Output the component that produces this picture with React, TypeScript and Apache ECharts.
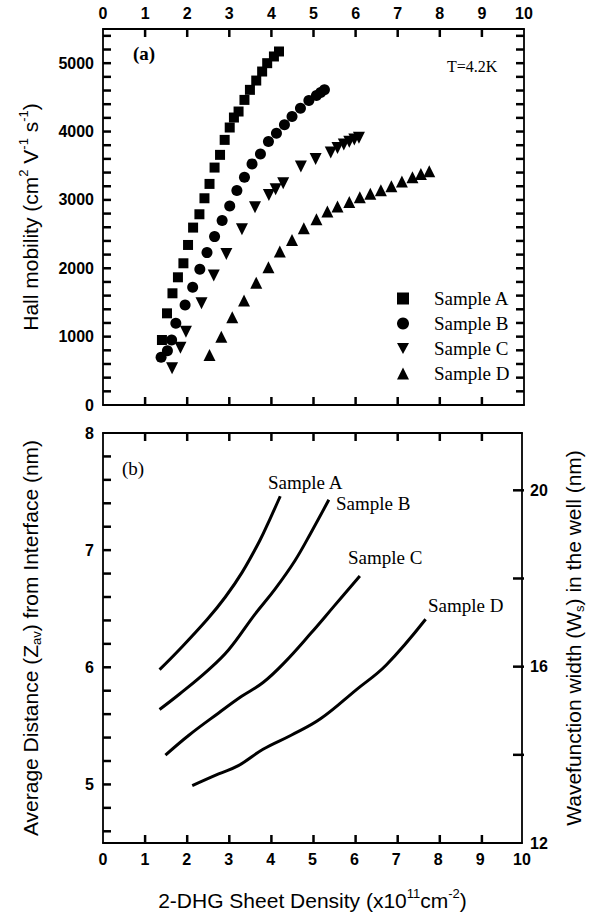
import { useEffect, useRef } from 'react';
import * as echarts from 'echarts';

const SANS = "'Liberation Sans', Arial, Helvetica, sans-serif";
const SERIF = "'Liberation Serif', 'Times New Roman', Times, serif";

// ---------- data ----------
const sampleNames = ['Sample A', 'Sample B', 'Sample C', 'Sample D'];

const densityLabels = [0, 1, 2, 3, 4, 5, 6, 7, 8, 9, 10];
const mobilityLabels = [0, 1000, 2000, 3000, 4000, 5000];
const distanceLabels = [5, 6, 7, 8];
const widthLabels = [12, 16, 20];
const widthTicks = [14, 16, 18, 20];

// (a) Hall mobility vs sheet density
const mobilityA: [number, number][] = [
  [1.40, 951], [1.52, 1341], [1.65, 1634], [1.78, 1868], [1.91, 2073], [2.02, 2341],
  [2.14, 2595], [2.29, 2790], [2.41, 3024], [2.53, 3234], [2.65, 3473], [2.78, 3659],
  [2.89, 3878], [3.01, 4059], [3.11, 4205], [3.22, 4293], [3.36, 4463], [3.49, 4610],
  [3.64, 4746], [3.78, 4878], [3.90, 5000], [4.06, 5098], [4.18, 5171],
];
const mobilityB: [number, number][] = [
  [1.38, 698], [1.53, 795], [1.63, 951], [1.73, 1195], [1.95, 1463], [2.13, 1722],
  [2.30, 1985], [2.47, 2229], [2.65, 2463], [2.83, 2698], [3.01, 2912], [3.18, 3137],
  [3.36, 3332], [3.54, 3527], [3.74, 3673], [3.93, 3854], [4.12, 3976], [4.31, 4098],
  [4.49, 4220], [4.69, 4341], [4.89, 4454], [5.07, 4527], [5.17, 4571], [5.26, 4610],
];
const mobilityC: [number, number][] = [
  [1.64, 537], [1.84, 839], [1.97, 1073], [2.34, 1488], [2.63, 1893], [2.93, 2210],
  [3.30, 2571], [3.61, 2893], [3.94, 3073], [4.10, 3156], [4.28, 3244], [4.70, 3488],
  [5.05, 3600], [5.41, 3693], [5.57, 3760], [5.72, 3810], [5.85, 3850], [5.97, 3885],
  [6.08, 3910],
];
const mobilityD: [number, number][] = [
  [2.53, 732], [2.81, 1000], [3.07, 1283], [3.35, 1527], [3.64, 1790], [3.93, 2015],
  [4.20, 2244], [4.49, 2415], [4.77, 2585], [5.07, 2717], [5.33, 2829], [5.57, 2902],
  [5.85, 2970], [6.10, 3040], [6.35, 3090], [6.60, 3140], [6.85, 3200], [7.10, 3270],
  [7.35, 3330], [7.55, 3380], [7.75, 3420],
];

// (b) Average distance Z_av vs sheet density
const distanceA: [number, number][] = [
  [1.35, 5.98], [1.82, 6.15], [2.49, 6.41], [2.92, 6.60], [3.32, 6.81], [3.74, 7.08],
  [3.99, 7.27], [4.23, 7.46],
];
const distanceB: [number, number][] = [
  [1.35, 5.64], [1.82, 5.77], [2.49, 5.97], [3.00, 6.15], [3.62, 6.45], [4.11, 6.67],
  [4.58, 6.91], [4.98, 7.16], [5.39, 7.43],
];
const distanceC: [number, number][] = [
  [1.49, 5.25], [2.05, 5.42], [2.76, 5.61], [3.30, 5.75], [3.82, 5.87], [4.33, 6.04],
  [4.96, 6.29], [5.51, 6.52], [6.13, 6.78],
];
const distanceD: [number, number][] = [
  [2.13, 4.99], [2.76, 5.09], [3.23, 5.16], [3.82, 5.30], [4.49, 5.42], [5.19, 5.56],
  [6.05, 5.81], [6.76, 6.02], [7.70, 6.41],
];

const TRI_DOWN = 'path://M0,0L10,0L5,9Z';

// axis ranges
const X_MIN = 0, X_MAX = 10;
const MOB_MIN = 0, MOB_MAX = 5500, MOB_STEP = 200;
const DIST_MIN = 4.5, DIST_MAX = 8, DIST_STEP = 0.2;
const WID_MIN = 12, WID_MAX = 21.3;

// panel rectangles (layout)
const GRID_A = { left: 103, top: 29, width: 421, height: 376 };
const GRID_B = { left: 103, top: 433, width: 421, height: 410 };

export default function App() {
  const ref = useRef<HTMLDivElement>(null);

  useEffect(() => {
    const chart = echarts.init(ref.current!, null, { renderer: 'svg' });

    const axisLine = () => ({ show: true, onZero: false, lineStyle: { color: '#000', width: 1.8 } });
    const noTick = { show: false };
    const tickLabel = (show: boolean, margin: number, fmt?: (v: number) => string) => ({
      show,
      margin,
      color: '#000',
      fontFamily: SANS,
      fontWeight: 'bold',
      fontSize: 16,
      formatter: fmt,
    });

    const titleStyle = {
      color: '#000',
      fontFamily: SANS,
      fontSize: 21,
      lineHeight: 26,
      rich: {
        sup: { fontFamily: SANS, fontSize: 13, lineHeight: 13, verticalAlign: 'top', color: '#000' },
        sub: { fontFamily: SANS, fontSize: 13, lineHeight: 13, verticalAlign: 'bottom', color: '#000' },
      },
    };

    const densityFmt = (v: number) => (densityLabels.includes(Math.round(v)) ? String(Math.round(v)) : '');

    const xAxisFor = (gridIndex: number, position: 'top' | 'bottom', labels: boolean, extra: any = {}) => ({
      type: 'value',
      gridIndex,
      position,
      min: X_MIN,
      max: X_MAX,
      interval: 1,
      axisLine: axisLine(),
      axisTick: noTick,
      axisLabel: tickLabel(labels, 8, densityFmt),
      splitLine: { show: false },
      ...extra,
    });

    const serifText = (text: string, x: number, y: number, size = 19, weight = 'normal') => ({
      type: 'text',
      x,
      y,
      silent: true,
      style: {
        text,
        fill: '#000',
        font: `${weight} ${size}px ${SERIF}`,
        fontFamily: SERIF,
        fontSize: size,
        fontWeight: weight,
        textAlign: 'left',
        textVerticalAlign: 'middle',
        align: 'left',
        verticalAlign: 'middle',
      },
    });

    const scatter = (name: string, data: [number, number][], symbol: string, size: number) => ({
      type: 'scatter',
      name,
      xAxisIndex: 0,
      yAxisIndex: 0,
      data,
      symbol,
      symbolSize: size,
      itemStyle: { color: '#000', opacity: 1 },
      emphasis: { disabled: true },
    });
    const curve = (data: [number, number][]) => ({
      type: 'line',
      xAxisIndex: 2,
      yAxisIndex: 2,
      data,
      smooth: 0.4,
      showSymbol: false,
      lineStyle: { color: '#000', width: 3 },
      emphasis: { disabled: true },
    });

    const texts = [
      serifText('(a)', 133, 53, 19, 'bold'),
      serifText('T=4.2K', 447, 66, 16),
      serifText('(b)', 122, 468, 19),
      serifText(sampleNames[0], 268, 482),
      serifText(sampleNames[1], 336, 503),
      serifText(sampleNames[2], 348, 557),
      serifText(sampleNames[3], 428, 605),
    ];

    // ----- tick marks (axis decoration), mapped with the panels' axis ranges -----
    const mapX = (g: any, v: number) => g.left + ((v - X_MIN) / (X_MAX - X_MIN)) * g.width;
    const mapY = (g: any, v: number, lo: number, hi: number) => g.top + g.height - ((v - lo) / (hi - lo)) * g.height;
    const seg = (x1: number, y1: number, x2: number, y2: number, w = 2.5) => ({
      type: 'line',
      silent: true,
      z: 50,
      shape: { x1, y1, x2, y2 },
      style: { stroke: '#000', lineWidth: w },
    });
    const steps = (a: number, b: number, s: number) => {
      const out: number[] = [];
      for (let k = 0; a + k * s <= b + 1e-9; k++) out.push(Math.round((a + k * s) * 1000) / 1000);
      return out;
    };
    const ticks: any[] = [];
    const L = 8;
    const xTickVals = steps(X_MIN, X_MAX, 1).filter((v) => v > X_MIN && v < X_MAX);
    [GRID_A, GRID_B].forEach((g) => {
      xTickVals.forEach((v) => {
        const x = mapX(g, v);
        ticks.push(seg(x, g.top + g.height, x, g.top + g.height - L));
        ticks.push(seg(x, g.top, x, g.top + L));
      });
    });
    steps(MOB_MIN, MOB_MAX, MOB_STEP)
      .filter((v) => v > MOB_MIN && v < MOB_MAX)
      .forEach((v) => {
        const y = mapY(GRID_A, v, MOB_MIN, MOB_MAX);
        ticks.push(seg(GRID_A.left, y, GRID_A.left + L, y));
        ticks.push(seg(GRID_A.left + GRID_A.width, y, GRID_A.left + GRID_A.width - L, y));
      });
    steps(4.6, DIST_MAX, DIST_STEP)
      .filter((v) => v > DIST_MIN && v < DIST_MAX)
      .forEach((v) => {
        const y = mapY(GRID_B, v, DIST_MIN, DIST_MAX);
        ticks.push(seg(GRID_B.left, y, GRID_B.left + L, y));
      });
    widthTicks.forEach((v) => {
      const y = mapY(GRID_B, v, WID_MIN, WID_MAX);
      ticks.push(seg(GRID_B.left + GRID_B.width, y, GRID_B.left + GRID_B.width - 11, y, 2.5));
    });

    const option: any = {
      animation: false,
      backgroundColor: '#fff',
      grid: [GRID_A, GRID_B],
      xAxis: [
        xAxisFor(0, 'top', true),
        xAxisFor(0, 'bottom', false),
        xAxisFor(1, 'bottom', true, {
          name: '2-DHG Sheet Density (x10{sup|11}cm{sup|-2})',
          nameLocation: 'middle',
          nameGap: 44,
          nameTextStyle: titleStyle,
        }),
        xAxisFor(1, 'top', false),
      ],
      yAxis: [
        {
          type: 'value',
          gridIndex: 0,
          position: 'left',
          min: MOB_MIN,
          max: MOB_MAX,
          interval: 1000,
          axisLine: axisLine(),
          axisTick: noTick,
          axisLabel: tickLabel(true, 9, (v: number) => (mobilityLabels.includes(v) ? String(v) : '')),
          splitLine: { show: false },
          name: 'Hall mobility (cm{sup|2} V{sup|-1} s{sup|-1})',
          nameLocation: 'middle',
          nameRotate: 90,
          nameGap: 60,
          nameTextStyle: titleStyle,
        },
        {
          type: 'value',
          gridIndex: 0,
          position: 'right',
          min: MOB_MIN,
          max: MOB_MAX,
          interval: 1000,
          axisLine: axisLine(),
          axisTick: noTick,
          axisLabel: { show: false },
          splitLine: { show: false },
        },
        {
          type: 'value',
          gridIndex: 1,
          position: 'left',
          min: DIST_MIN,
          max: DIST_MAX,
          splitNumber: 18,
          axisLine: axisLine(),
          axisTick: noTick,
          axisLabel: tickLabel(true, 9, (v: number) => {
            const r = Math.round(v * 100) / 100;
            return distanceLabels.includes(r) ? String(r) : '';
          }),
          splitLine: { show: false },
          name: 'Average Distance (Z{sub|av}) from Interface (nm)',
          nameLocation: 'middle',
          nameRotate: 90,
          nameGap: 60,
          nameTextStyle: titleStyle,
        },
        {
          type: 'value',
          gridIndex: 1,
          position: 'right',
          min: WID_MIN,
          max: WID_MAX,
          interval: 2,
          axisLine: axisLine(),
          axisTick: noTick,
          axisLabel: tickLabel(true, 8, (v: number) => {
            const r = Math.round(v * 100) / 100;
            return widthLabels.includes(r) ? String(r) : '';
          }),
          splitLine: { show: false },
          name: 'Wavefunction width (W{sub|s}) in the well (nm)',
          nameLocation: 'middle',
          nameRotate: 90,
          nameGap: 38,
          nameTextStyle: titleStyle,
        },
      ],
      legend: {
        show: true,
        orient: 'vertical',
        left: 397,
        top: 289,
        padding: 0,
        itemWidth: 12,
        itemHeight: 12,
        itemGap: 6,
        selectedMode: false,
        data: sampleNames,
        textStyle: {
          color: '#000',
          fontFamily: SERIF,
          fontSize: 19,
          lineHeight: 18,
          padding: [0, 0, 0, 20],
        },
      },
      graphic: { elements: [...texts, ...ticks] },
      series: [
        scatter(sampleNames[0], mobilityA, 'rect', 10),
        scatter(sampleNames[1], mobilityB, 'circle', 11),
        scatter(sampleNames[2], mobilityC, TRI_DOWN, 12),
        scatter(sampleNames[3], mobilityD, 'triangle', 12),
        curve(distanceA),
        curve(distanceB),
        curve(distanceC),
        curve(distanceD),
      ],
    };

    chart.setOption(option);
    return () => chart.dispose();
  }, []);

  return (
    <div
      ref={ref}
      style={{ position: 'absolute', left: 0, top: 0, width: 594, height: 917, background: '#fff' }}
    />
  );
}
